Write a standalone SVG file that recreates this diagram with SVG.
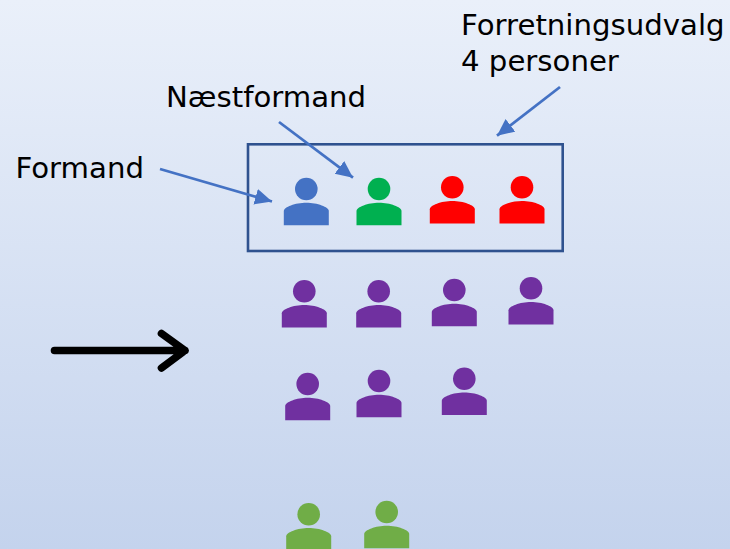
<svg xmlns="http://www.w3.org/2000/svg" width="730" height="549" viewBox="0 0 730 549">
<style>
.label{font-family:"DejaVu Sans",sans-serif;font-size:29.2px;fill:#000}
.call{fill:none;stroke:#4472C4;stroke-width:2.8;marker-end:url(#tip)}
.big{fill:none;stroke:#000;stroke-width:7.6;stroke-linecap:round;stroke-linejoin:round}
.blue{fill:#4472C4}.green{fill:#00B050}.red{fill:#FF0000}.purple{fill:#7030A0}.lime{fill:#70AD47}
</style>
<defs>
<linearGradient id="bg" x1="0" y1="0" x2="0" y2="1"><stop offset="0" stop-color="#EAF0FA"/><stop offset="1" stop-color="#C4D3ED"/></linearGradient>
<marker id="tip" markerUnits="userSpaceOnUse" markerWidth="19" markerHeight="18" refX="17" refY="8" orient="auto"><path d="M0 0L17 8L0 16Z" fill="#4472C4"/></marker>
<symbol id="person" overflow="visible"><circle cx="0" cy="0" r="11.3"/><path d="M-22.5 36.3V22C-22.5 18-11 13.7 0 13.7S22.5 18 22.5 22V36.3Z"/></symbol>
</defs>
<rect id="background" width="730" height="549" fill="url(#bg)"/>
<g id="box"><rect x="248" y="144.3" width="314.7" height="106.7" fill="none" stroke="#2F528F" stroke-width="2.6"/></g>
<g id="person-formand" class="blue"><use href="#person" x="306.3" y="189"/></g>
<g id="person-naestformand" class="green"><use href="#person" x="379" y="189"/></g>
<g id="person-fu3" class="red"><use href="#person" x="452.3" y="187.3"/></g>
<g id="person-fu4" class="red"><use href="#person" x="522" y="187.3"/></g>
<g id="person-p1" class="purple"><use href="#person" x="304.3" y="291.3"/></g>
<g id="person-p2" class="purple"><use href="#person" x="378.7" y="291.3"/></g>
<g id="person-p3" class="purple"><use href="#person" x="454.3" y="290"/></g>
<g id="person-p4" class="purple"><use href="#person" x="531" y="288.3"/></g>
<g id="person-p5" class="purple"><use href="#person" x="307.7" y="384"/></g>
<g id="person-p6" class="purple"><use href="#person" x="379" y="381"/></g>
<g id="person-p7" class="purple"><use href="#person" x="464.3" y="378.7"/></g>
<g id="person-g1" class="lime"><use href="#person" x="308.7" y="514.3"/></g>
<g id="person-g2" class="lime"><use href="#person" x="386.7" y="512"/></g>
<g id="labels">
<text class="label" x="461" y="35">Forretningsudvalg</text>
<text class="label" x="461" y="71">4 personer</text>
<text class="label" x="166" y="106.5">Næstformand</text>
<text class="label" x="15.5" y="177.5">Formand</text>
</g>
<g id="connectors">
<path class="call" d="M160 169L272 201.5"/>
<path class="call" d="M279 122L353 177.7"/>
<path class="call" d="M560 87L497 135.7"/>
<path class="big" d="M54.5 350.5H185M161.5 333.5L185 350.5L161.5 368"/>
</g>
</svg>
